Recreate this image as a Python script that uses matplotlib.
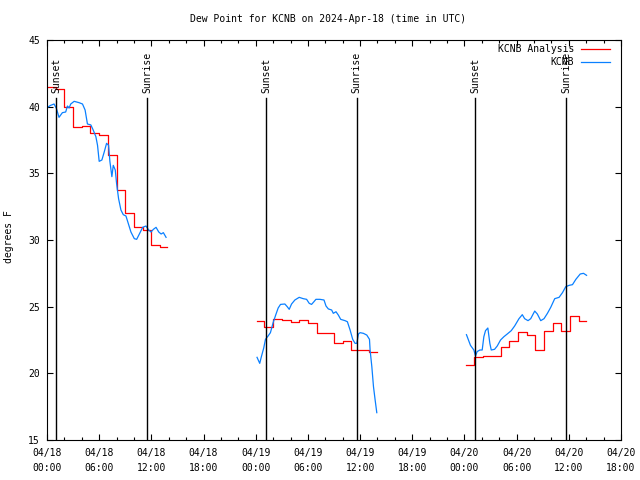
import matplotlib
matplotlib.use("Agg")
import matplotlib.pyplot as plt
import numpy as np

# время в часах от 04/18 00:00 UTC
ana_t1 = [0, 1, 2, 3, 4, 5, 6, 7, 8, 9, 10, 11, 12, 13, 13.85]
ana_v1 = [41.5, 41.35, 40.0, 38.45, 38.55, 38.05, 37.85, 36.4, 33.75, 32.0, 31.0, 30.75, 29.6, 29.5, 29.5]
ana_t2 = [24.1, 25, 26, 27, 28, 29, 30, 31, 32, 33, 34, 35, 36, 37, 37.9]
ana_v2 = [23.9, 23.45, 24.1, 23.97, 23.85, 23.97, 23.8, 23.0, 23.05, 22.3, 22.4, 21.75, 21.75, 21.6, 21.6]
ana_t3 = [48.2, 49.15, 50.15, 51.15, 52.15, 53.15, 54.15, 55.15, 56.15, 57.15, 58.15, 59.15, 60.15, 61.15, 62.0]
ana_v3 = [20.6, 21.2, 21.3, 21.3, 22.0, 22.4, 23.1, 22.9, 21.75, 23.2, 23.75, 23.2, 24.27, 23.9, 23.9]

obs_t1 = [0.04, 0.42, 0.81, 1.08, 1.38, 1.77, 2.15, 2.35, 2.54, 2.73, 3.12, 3.69, 4.08, 4.38, 4.65,
          5.04, 5.31, 5.62, 5.81, 6.0, 6.31, 6.58, 6.85, 7.08, 7.23, 7.46, 7.62, 7.85, 8.0, 8.23,
          8.5, 8.77, 9.08, 9.27, 9.65, 10.04, 10.31, 10.62, 11.0, 11.38, 11.69, 11.96, 12.23, 12.54,
          12.85, 13.12, 13.38, 13.69]
obs_v1 = [39.95, 40.1, 40.2, 39.87, 39.2, 39.55, 39.6, 40.05, 39.9, 40.2, 40.4, 40.3, 40.2, 39.75, 38.7,
          38.63, 38.25, 37.75, 37.1, 35.9, 36.0, 36.6, 37.25, 37.1, 35.9, 34.75, 35.6, 35.25, 34.25, 33.1,
          32.25, 31.9, 31.8, 31.4, 30.6, 30.1, 30.05, 30.45, 30.95, 31.05, 30.75, 30.6, 30.8, 30.95,
          30.6, 30.45, 30.55, 30.2]
obs_t2 = [24.15, 24.46, 24.65, 24.92, 25.12, 25.42, 25.69, 26.0, 26.31, 26.58, 26.85, 27.35, 27.62, 27.85,
          28.12, 28.5, 29.0, 29.46, 29.85, 30.15, 30.42, 30.69, 30.92, 31.38, 31.85, 32.08, 32.35, 32.73,
          32.92, 33.23, 33.5, 33.77, 34.27, 34.54, 34.85, 35.15, 35.42, 35.62, 35.81, 36.0, 36.38, 36.77,
          37.08, 37.15, 37.35, 37.54, 37.73, 37.92]
obs_v2 = [21.2, 20.75, 21.25, 21.9, 22.55, 22.8, 23.05, 23.8, 24.4, 24.9, 25.17, 25.2, 25.0, 24.8,
          25.2, 25.5, 25.7, 25.6, 25.55, 25.25, 25.17, 25.37, 25.55, 25.55, 25.5, 25.05, 24.83, 24.75,
          24.5, 24.62, 24.37, 24.05, 23.95, 23.87, 23.25, 22.55, 22.25, 22.25, 22.95, 23.05, 23.0, 22.87,
          22.55, 21.75, 20.5, 19.0, 18.0, 17.05]
obs_t3 = [48.23, 48.69, 49.08, 49.27, 49.46, 49.77, 50.04, 50.23, 50.42, 50.69, 50.92, 51.08, 51.46, 51.77,
          52.15, 52.54, 52.92, 53.38, 53.77, 54.27, 54.65, 54.92, 55.31, 55.62, 56.08, 56.38, 56.77, 57.15,
          57.54, 57.92, 58.38, 58.88, 59.27, 59.65, 60.04, 60.42, 60.81, 61.31, 61.69, 62.04]
obs_v3 = [22.9, 22.1, 21.75, 21.3, 21.63, 21.75, 21.75, 22.75, 23.2, 23.4, 22.25, 21.75, 21.8, 22.05,
          22.5, 22.75, 22.95, 23.2, 23.55, 24.1, 24.4, 24.1, 23.95, 24.1, 24.67, 24.45, 23.95, 24.1,
          24.5, 24.95, 25.6, 25.7, 26.05, 26.5, 26.6, 26.65, 27.05, 27.45, 27.5, 27.35]

sun_t = [1.05, 11.55, 25.2, 35.6, 49.25, 59.7]
sun_lbl = ["Sunset", "Sunrise", "Sunset", "Sunrise", "Sunset", "Sunrise"]

xtick_lbl = ["04/18\n00:00", "04/18\n06:00", "04/18\n12:00", "04/18\n18:00",
             "04/19\n00:00", "04/19\n06:00", "04/19\n12:00", "04/19\n18:00",
             "04/20\n00:00", "04/20\n06:00", "04/20\n12:00", "04/20\n18:00"]

RED = "#ff0000"
BLUE = "#0a80ff"
FONT = "DejaVu Sans Mono"
FS = 7

plt.rcParams["font.family"] = FONT
plt.rcParams["font.size"] = FS

fig = plt.figure(figsize=(6.4, 4.8), dpi=100)
ax = fig.add_axes([47 / 640, 40 / 480, 574 / 640, 400 / 480])

for t, v in [(ana_t1, ana_v1), (ana_t2, ana_v2), (ana_t3, ana_v3)]:
    ax.plot(t, v, color=RED, lw=0.9, drawstyle="steps-post")
for t, v in [(obs_t1, obs_v1), (obs_t2, obs_v2), (obs_t3, obs_v3)]:
    ax.plot(t, v, color=BLUE, lw=0.9)

# линии восхода/заката
for t, s in zip(sun_t, sun_lbl):
    ax.axvline(t, ymin=0, ymax=0.855, color="black", lw=1.0)
    ax.text(t, 0.8675, s, transform=ax.get_xaxis_transform(), rotation=90,
            ha="center", va="bottom", fontsize=FS)

ax.set_xlim(0, 66)
ax.set_ylim(15, 45)
ax.set_xticks(np.arange(0, 67, 6))
ax.set_xticklabels(xtick_lbl)
ax.set_xticks(np.arange(0, 67, 2), minor=True)
ax.set_yticks(np.arange(15, 46, 5))
for lbl in ax.get_xticklabels():
    lbl.set_linespacing(1.55)

ax.tick_params(which="both", direction="in", top=True, right=True, width=0.8, labelsize=FS)
ax.tick_params(which="major", length=4.5)
ax.tick_params(which="minor", length=2.5)
ax.tick_params(axis="x", pad=6)
ax.tick_params(axis="y", pad=5)
for sp in ax.spines.values():
    sp.set_linewidth(0.8)

# легенда вручную (текст выровнен вправо, как в gnuplot)
ax.text(0.918, 0.9775, "KCNB Analysis", transform=ax.transAxes, ha="right", va="center", fontsize=FS)
ax.plot([0.930, 0.981], [0.9775, 0.9775], color=RED, lw=0.9, transform=ax.transAxes)
ax.text(0.918, 0.944, "KCNB", transform=ax.transAxes, ha="right", va="center", fontsize=FS)
ax.plot([0.930, 0.981], [0.944, 0.944], color=BLUE, lw=0.9, transform=ax.transAxes)

fig.text(328 / 640, 1 - 19.5 / 480, "Dew Point for KCNB on 2024-Apr-18 (time in UTC)",
         ha="center", va="center", fontsize=FS)
fig.text(9.5 / 640, 1 - 237 / 480, "degrees F", rotation=90, ha="center", va="center", fontsize=FS)

fig.savefig("out.png", dpi=100)
